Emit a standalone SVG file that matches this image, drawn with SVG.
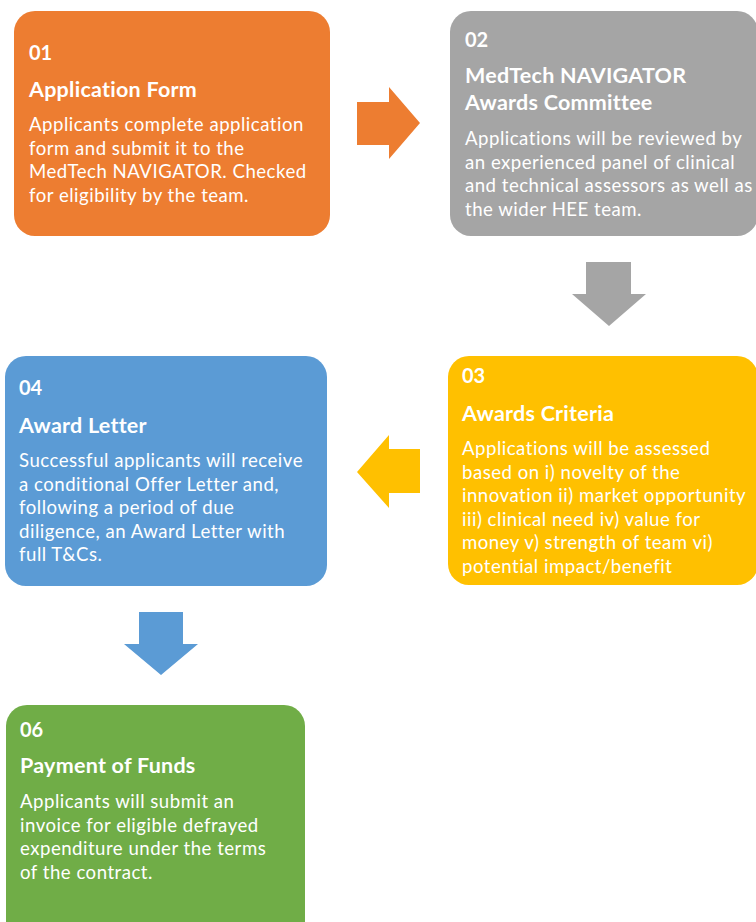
<svg xmlns="http://www.w3.org/2000/svg" width="756" height="922" viewBox="0 0 756 922">
<style>
text{font-family:Lato,"Open Sans","Liberation Sans",sans-serif;fill:#fff}
.n{font-size:20px;font-weight:700}
.t{font-size:21.5px;font-weight:700;letter-spacing:0.25px}
.b{font-size:18.6px;letter-spacing:0.5px}
</style>
<rect width="756" height="922" fill="#fff"/>
<g id="connectors">
<polygon fill="#ED7D31" points="357,102 389,102 389,87 420,123 389,159 389,145 357,145"/>
<polygon fill="#A5A5A5" points="586,262 631,262 631,294 646,294 609,326 572,294 586,294"/>
<polygon fill="#FFC000" points="420,449 389,449 389,435 357,472 389,508 389,493 420,493"/>
<polygon fill="#5B9BD5" points="139,612 183,612 183,644 198,644 161,675 124,644 139,644"/>
</g>
<g id="n01">
<rect x="14" y="11" width="316" height="225" rx="21" fill="#ED7D31"/>
<text class="n" x="29" y="60">01</text>
<text class="t" x="29" y="97">Application Form</text>
<text class="b" x="29" y="131">Applicants complete application</text>
<text class="b" x="29" y="154.5">form and submit it to the</text>
<text class="b" x="29" y="178">MedTech NAVIGATOR. Checked</text>
<text class="b" x="29" y="201.5">for eligibility by the team.</text>
</g>
<g id="n02">
<rect x="450" y="11" width="308" height="225" rx="21" fill="#A5A5A5"/>
<text class="n" x="465" y="47">02</text>
<text class="t" x="465" y="83">MedTech NAVIGATOR</text>
<text class="t" x="465" y="110">Awards Committee</text>
<text class="b" x="465" y="145">Applications will be reviewed by</text>
<text class="b" x="465" y="168.5">an experienced panel of clinical</text>
<text class="b" x="465" y="192">and technical assessors as well as</text>
<text class="b" x="465" y="215.5">the wider HEE team.</text>
</g>
<g id="n03">
<rect x="448" y="356" width="310" height="229" rx="21" fill="#FFC000"/>
<text class="n" x="462" y="383">03</text>
<text class="t" x="462" y="421">Awards Criteria</text>
<text class="b" x="462" y="455">Applications will be assessed</text>
<text class="b" x="462" y="478.5">based on i) novelty of the</text>
<text class="b" x="462" y="502">innovation ii) market opportunity</text>
<text class="b" x="462" y="525.5">iii) clinical need iv) value for</text>
<text class="b" x="462" y="549">money v) strength of team vi)</text>
<text class="b" x="462" y="572.5">potential impact/benefit</text>
</g>
<g id="n04">
<rect x="5" y="356" width="322" height="230" rx="21" fill="#5B9BD5"/>
<text class="n" x="19" y="395">04</text>
<text class="t" x="19" y="433">Award Letter</text>
<text class="b" x="19" y="467">Successful applicants will receive</text>
<text class="b" x="19" y="490.5">a conditional Offer Letter and,</text>
<text class="b" x="19" y="514">following a period of due</text>
<text class="b" x="19" y="537.5">diligence, an Award Letter with</text>
<text class="b" x="19" y="561">full T&amp;Cs.</text>
</g>
<g id="n06">
<rect x="6" y="705" width="299" height="240" rx="21" fill="#70AD47"/>
<text class="n" x="20" y="737">06</text>
<text class="t" x="20" y="773">Payment of Funds</text>
<text class="b" x="20" y="808">Applicants will submit an</text>
<text class="b" x="20" y="831.5">invoice for eligible defrayed</text>
<text class="b" x="20" y="855">expenditure under the terms</text>
<text class="b" x="20" y="878.5">of the contract.</text>
</g>
</svg>
